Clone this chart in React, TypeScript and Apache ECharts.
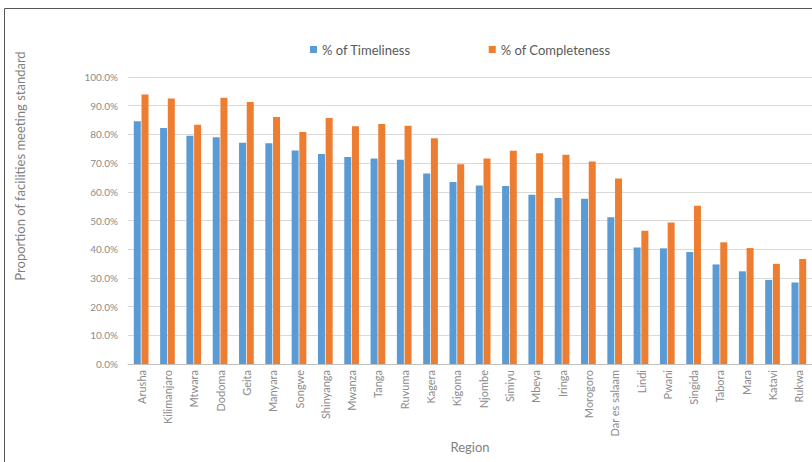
import React, { useEffect, useRef } from "react";
import * as echarts from "echarts";

const regions = [
  "Arusha", "Kilimanjaro", "Mtwara", "Dodoma", "Geita", "Manyara", "Songwe", "Shinyanga",
  "Mwanza", "Tanga", "Ruvuma", "Kagera", "Kigoma", "Njombe", "Simiyu", "Mbeya", "Iringa",
  "Morogoro", "Dar es salaam", "Lindi", "Pwani", "Singida", "Tabora", "Mara", "Katavi", "Rukwa",
];
const timeliness = [
  84.6, 82.2, 79.5, 79.0, 77.1, 76.9, 74.4, 73.2, 72.1, 71.6, 71.2, 66.4, 63.4, 62.2, 62.0,
  59.0, 57.8, 57.6, 51.1, 40.6, 40.3, 39.0, 34.7, 32.3, 29.3, 28.4,
];
const completeness = [
  93.9, 92.5, 83.4, 92.8, 91.3, 86.1, 80.8, 85.7, 82.8, 83.6, 83.0, 78.7, 69.6, 71.6, 74.3,
  73.4, 72.9, 70.6, 64.6, 46.4, 49.3, 55.1, 42.4, 40.4, 34.9, 36.6,
];
const seriesNames = ["% of Timeliness", "% of Completeness"];
const yAxisTitle = "Proportion of facilities meeting standard";
const xAxisTitle = "Region";

export default function App() {
  const ref = useRef<HTMLDivElement>(null);
  useEffect(() => {
    if (!ref.current) return;
    const chart = echarts.init(ref.current, undefined, { renderer: "svg" });
    const font = "Lato, 'Noto Sans', sans-serif";
    chart.setOption({
      animation: false,
      textStyle: { fontFamily: font },
      color: ["#5B9BD5", "#ED7D31"],
      legend: {
        left: 305,
        top: 38,
        itemWidth: 7,
        itemHeight: 7,
        itemGap: 78,
        icon: "rect",
        textStyle: { color: "#595959", fontSize: 13, fontFamily: font },
        data: seriesNames,
      },
      grid: { left: 128, top: 77, width: 685, height: 287, containLabel: false },
      xAxis: {
        type: "category",
        data: regions,
        axisTick: { show: false },
        axisLine: { lineStyle: { color: "#BFBFBF" } },
        axisLabel: { rotate: 90, color: "#8C8C8C", fontSize: 11, margin: 6, interval: 0, fontFamily: font },
        name: xAxisTitle,
        nameLocation: "middle",
        nameGap: 76,
        nameMoveOverlap: false,
        nameTextStyle: { color: "#7F7F7F", fontSize: 13, fontFamily: font },
      },
      yAxis: {
        type: "value",
        min: 0,
        max: 100,
        interval: 10,
        axisLine: { show: false },
        axisTick: { show: false },
        splitLine: { lineStyle: { color: "#D9D9D9" } },
        axisLabel: {
          color: "#8C8C8C",
          fontSize: 10,
          margin: 10,
          fontFamily: font,
          formatter: (v: number) => v.toFixed(1) + "%",
        },
      },
      series: [
        { name: seriesNames[0], type: "bar", data: timeliness, barWidth: 7, barGap: "10%" },
        { name: seriesNames[1], type: "bar", data: completeness, barWidth: 7, barGap: "10%" },
      ],
      graphic: [
        { type: "line", shape: { x1: 4.5, y1: 8.5, x2: 812, y2: 8.5 }, style: { stroke: "#555", lineWidth: 1 } },
        { type: "line", shape: { x1: 4.5, y1: 8.5, x2: 4.5, y2: 462 }, style: { stroke: "#555", lineWidth: 1 } },
        {
          type: "text",
          x: 20,
          y: 166,
          rotation: Math.PI / 2,
          style: {
            text: yAxisTitle,
            fill: "#7F7F7F",
            fontSize: 13,
            fontFamily: font,
            align: "center",
            verticalAlign: "middle",
          },
        },
      ],
    });
    return () => chart.dispose();
  }, []);
  return <div ref={ref} style={{ position: "absolute", left: 0, top: 0, width: 812, height: 462 }} />;
}
